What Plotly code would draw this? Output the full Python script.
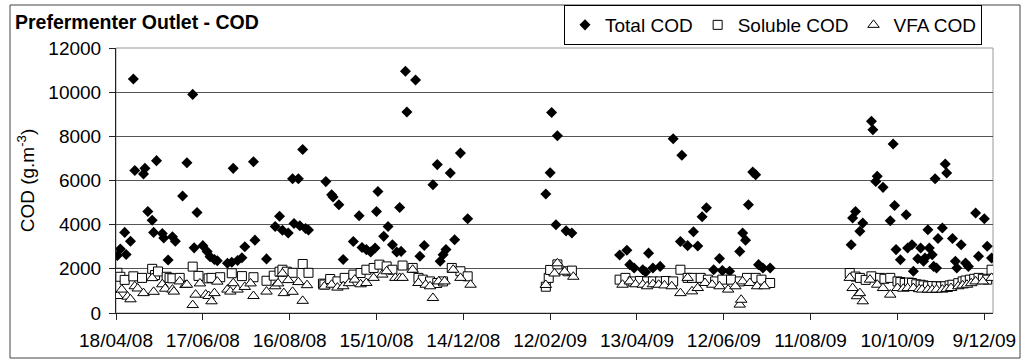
import pandas as pd
import plotly.graph_objects as go

# Sampling days are counted from the first sample date
start_date = pd.Timestamp("2008-04-18")

total_day = [1, 3, 6, 7, 10, 12, 13, 19, 20, 22, 25, 26, 28, 32, 33, 36, 39, 41, 46, 49,
             53, 54, 56, 60, 63, 65, 68, 70, 77, 80, 81, 84, 87, 89, 95, 96, 104, 110, 113, 115,
             119, 122, 123, 126, 127, 129, 131, 133, 145, 149, 150, 154, 157, 164, 168, 170, 173, 176, 179, 180,
             181, 185, 188, 191, 194, 196, 197, 200, 201, 207, 210, 213, 219, 222, 224, 226, 228, 231, 234, 238,
             243,
             297, 300, 301, 304, 305, 311, 315,
             348, 353, 355, 358, 364, 366, 368, 371, 376, 385, 390, 391, 395, 399, 402, 405, 408, 413, 417, 419,
             424, 431, 433, 435, 437, 440, 442, 444, 447, 452,
             508, 509, 511, 514, 516, 522, 523, 525, 526, 530, 535, 537, 538, 539, 542, 546, 547, 550, 551, 554,
             556, 558, 559, 561, 562, 564, 565, 566, 567, 568, 571, 573, 574, 578, 580, 581, 584, 587, 589, 594,
             596, 600, 602, 605]
total_cod = [2600, 2900, 3650, 2650, 3250, 10600, 6450, 6300, 6550, 4600, 4200, 3650, 6900, 3600, 3400, 2400, 3450, 3250, 5300, 6800,
             9900, 2950, 4550, 3050, 2780, 2550, 2420, 2370, 2250, 2300, 6550, 2380, 2500, 3000, 6850, 3300, 2450, 3920, 4380, 3750,
             3620, 6080, 4050, 6080, 3950, 7400, 3830, 3760, 5950, 5350, 5250, 4900, 2420, 3240, 4400, 2970, 2870, 2760, 2940, 4600,
             5500, 3470, 3920, 3090, 2760, 4780, 2790, 10950, 9100, 10550, 2570, 3060, 5810, 6720, 2340, 2640, 2870, 6340, 3320, 7240,
             4270,
             5390, 6350, 9080, 4000, 8030, 3720, 3620,
             2630, 2840, 2190, 2040, 1960, 1860, 2710, 2040, 2110, 7890, 3240, 7140, 3050, 3680, 3030, 4360, 4770, 1960, 2470, 1920,
             1890, 2790, 3620, 3300, 4900, 6380, 6260, 2190, 2040, 2040,
             3090, 4300, 4600, 3700, 4070, 8680, 8300, 5960, 6190, 5690, 4180, 7650, 4870, 2870, 2410, 4450, 2940, 3090, 1890, 2460,
             2940, 2340, 2490, 3770, 2940, 2640, 2110, 6080, 2040, 3370, 3850, 6750, 6340, 3370, 2340, 2040, 3090, 2260, 2110, 4530,
             2570, 4270, 3020, 2490]

soluble_day = [1, 3, 6, 12, 18, 25, 27, 29, 35, 37, 39, 44, 53, 57, 64, 66, 72, 80, 87, 95,
               104, 109, 113, 115, 118, 122, 129, 133, 143, 144, 148, 153, 158, 164, 169, 173, 178, 182, 187, 191,
               198, 205, 209, 212, 217, 222, 226, 232, 238, 243,
               297, 299, 300, 305, 312, 315,
               348, 352, 357, 362, 367, 371, 376, 380, 385, 390, 395, 398, 404, 409, 414, 419, 425, 431, 436, 442,
               446, 452,
               507, 511, 514, 518, 522, 528, 531, 535, 540, 542, 545, 548, 550, 553, 556, 558, 561, 564, 567, 570,
               573, 576, 578, 582, 585, 587, 590, 593, 596, 599, 602, 605]
soluble_cod = [1820, 1640, 1500, 1660, 1590, 2000, 1720, 1880, 1640, 1590, 1570, 1590, 2100, 1680, 1570, 1590, 1620, 1800, 1670, 1620,
               1460, 1690, 1870, 1960, 1870, 1820, 2220, 1820, 1330, 1290, 1540, 1430, 1590, 1740, 1810, 1960, 2040, 2190, 2110, 1960,
               2150, 2040, 1590, 1510, 1430, 1360, 1430, 2040, 1890, 1660,
               1190, 1590, 1950, 2200, 1890, 1920,
               1510, 1590, 1430, 1450, 1430, 1430, 1430, 1450, 1430, 1960, 1590, 1590, 1590, 1510, 1430, 1510, 1510, 1430, 1590, 1590,
               1510, 1360,
               1810, 1650, 1590, 1500, 1660, 1590, 1550, 1590, 1430, 1400, 1360, 1380, 1360, 1300, 1280, 1250, 1210, 1220, 1210, 1200,
               1210, 1250, 1280, 1350, 1430, 1470, 1510, 1550, 1590, 1550, 1510, 1960]

vfa_day = [1, 4, 8, 10, 13, 15, 19, 25, 26, 32, 34, 39, 40, 44, 48, 49, 53, 55, 58, 62,
           64, 66, 68, 70, 77, 79, 81, 84, 89, 93, 95, 104, 110, 112, 115, 116, 119, 122, 126, 129,
           132, 144, 149, 153, 157, 161, 165, 169, 173, 178, 184, 187, 193, 196, 198, 205, 209, 214, 217, 219,
           223, 227, 233, 238, 245,
           297, 303, 305, 310, 316,
           350, 355, 359, 364, 367, 371, 375, 379, 384, 390, 395, 398, 402, 407, 412, 417, 423, 428, 431, 432,
           433, 438, 443, 448,
           507, 509, 512, 514, 516, 521, 526, 530, 535, 540, 544, 547, 551, 555, 557, 561, 564, 567, 571, 574,
           577, 582, 585, 588, 591, 594, 599, 605]
vfa_cod = [770, 1060, 740, 620, 1210, 1110, 900, 1580, 960, 1300, 1100, 1060, 970, 1430, 1270, 1280, 360, 830, 1340, 830,
           770, 530, 900, 1420, 1060, 970, 1350, 1060, 1180, 1340, 770, 970, 1210, 1340, 1790, 900, 1490, 960, 1400, 550,
           1260, 1200, 1280, 1150, 1210, 1350, 1510, 1300, 1360, 1590, 1740, 1890, 1590, 1590, 1590, 1960, 1360, 1280, 1210, 680,
           1430, 1430, 1960, 1590, 1280,
           1270, 1790, 2250, 1870, 1640,
           1280, 1430, 1300, 1280, 1210, 1300, 1280, 1250, 1210, 900, 1590, 980, 1130, 1360, 1280, 1210, 1060, 1210, 380, 600,
           1430, 1360, 1210, 1210,
           1590, 1130, 760, 900, 530, 1510, 1280, 1130, 830, 1130, 1100, 1130, 1130, 1080, 1060, 1060, 1050, 1060, 1060, 1090,
           1130, 1210, 1250, 1280, 1350, 1430, 1430, 1590]


def to_dates(days):
    return [start_date + pd.Timedelta(days=d) for d in days]


FONT = "Arial, Liberation Sans, sans-serif"

fig = go.Figure()
fig.add_trace(go.Scatter(
    x=to_dates(total_day), y=total_cod, mode="markers", name="Total COD",
    marker=dict(symbol="diamond", size=8.5, color="black", line=dict(width=0)),
))
fig.add_trace(go.Scatter(
    x=to_dates(soluble_day), y=soluble_cod, mode="markers", name="Soluble COD",
    marker=dict(symbol="square", size=9, color="white", line=dict(width=1, color="black")),
))
fig.add_trace(go.Scatter(
    x=to_dates(vfa_day), y=vfa_cod, mode="markers", name="VFA COD",
    marker=dict(symbol="triangle-up", size=10, color="white", line=dict(width=1, color="black")),
))

L, R, T, B = 116, 28, 48, 47
W, H = 1021, 360
pw, ph = W - L - R, H - T - B


def px(x):
    return (x - L) / pw


def py(y):
    return (H - B - y) / ph


fig.update_layout(
    width=W, height=H,
    margin=dict(l=L, r=R, t=T, b=B, autoexpand=False),
    paper_bgcolor="white", plot_bgcolor="white",
    font=dict(family=FONT, size=19, color="black"),
    showlegend=True,
    legend=dict(
        orientation="h", x=px(564), xanchor="left", y=py(5), yanchor="top",
        bordercolor="black", borderwidth=1, bgcolor="white",
        font=dict(family=FONT, size=19), itemwidth=30,
    ),
    xaxis=dict(
        type="date", automargin=False,
        range=[start_date, start_date + pd.Timedelta(days=606)],
        tick0=start_date, dtick=60 * 86400000,
        tickformat="%-d/%m/%y",
        ticks="outside", ticklen=6, tickcolor="#222",
        showline=True, linecolor="#222", linewidth=1,
        showgrid=False, zeroline=False,
        ticklabelstandoff=4,
    ),
    yaxis=dict(
        automargin=False,
        range=[0, 12000], dtick=2000, tickformat="d",
        ticks="outside", ticklen=6, tickcolor="#222",
        showline=True, linecolor="#222", linewidth=1,
        showgrid=True, gridcolor="#555", gridwidth=1,
        zeroline=False,
        title=dict(text="COD (g.m<sup>-3</sup>)", standoff=8, font=dict(size=19)),
        ticklabelstandoff=4,
    ),
    shapes=[
        # plot-area frame
        dict(type="rect", xref="paper", yref="paper", x0=0, x1=1, y0=0, y1=1,
             line=dict(color="#999", width=1), layer="below"),
        # chart outer frame
        dict(type="rect", xref="paper", yref="paper",
             x0=px(10), x1=px(1020), y0=py(358), y1=py(5),
             line=dict(color="#444", width=1)),
    ],
    annotations=[
        dict(text="<b>Prefermenter Outlet - COD</b>", xref="paper", yref="paper",
             x=px(13), y=py(22), xanchor="left", yanchor="middle", showarrow=False,
             font=dict(family=FONT, size=19.5, color="black")),
    ],
)

fig.write_html("out.html")
